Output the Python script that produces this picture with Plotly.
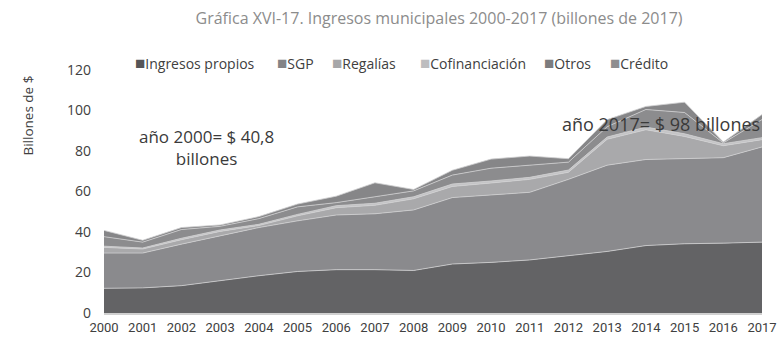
import plotly.graph_objects as go

# data (billones de pesos de 2017)
years = list(range(2000, 2018))
ingresos_propios = [12.2, 12.4, 13.5, 16.0, 18.4, 20.5, 21.4, 21.4, 21.0, 24.2,
                    25.0, 26.2, 28.3, 30.4, 33.3, 34.2, 34.5, 35.0]
sgp = [17.4, 17.2, 20.5, 22.1, 23.8, 25.0, 27.0, 27.6, 29.9, 32.8,
       33.3, 33.4, 37.7, 42.6, 42.5, 42.0, 42.2, 47.0]
regalias = [2.8, 2.0, 2.2, 2.2, 1.0, 2.5, 3.6, 4.2, 5.5, 5.5,
            5.9, 6.4, 3.5, 12.8, 14.7, 11.0, 5.9, 3.6]
cofinanciacion = [0.6, 0.5, 0.7, 0.7, 0.6, 0.7, 1.0, 1.0, 1.0, 1.2,
                  1.0, 1.0, 1.1, 1.1, 1.3, 1.3, 1.0, 1.0]
otros = [4.7, 2.9, 4.3, 1.8, 2.8, 3.7, 1.5, 3.2, 2.9, 4.4,
         6.3, 6.0, 3.9, 5.1, 8.7, 10.5, 0.4, 8.9]
credito = [3.1, 0.9, 1.0, 0.7, 1.0, 1.4, 3.2, 6.9, 0.7, 2.4,
           4.5, 4.5, 1.7, 3.5, 1.5, 5.1, 0.4, 2.5]

series = [
    ('Ingresos propios', ingresos_propios, '#636365', '#555557'),
    ('SGP', sgp, '#8a8a8d', '#838386'),
    ('Regalías', regalias, '#a9a9ab', '#a7a7a9'),
    ('Cofinanciación', cofinanciacion, '#c4c4c6', '#bdbdbf'),
    ('Otros', otros, '#8c8c8e', '#7c7c7e'),
    ('Crédito', credito, '#868688', '#8e8e90'),
]

# plot area, in screen pixels measured on the reference
L, R, T, B = 103.5, 762.5, 70, 313.5
W, H = R - L, B - T


def px(xs):
    return (xs - L) / W


def py(ys):
    return (B - ys) / H


fig = go.Figure()
for name, vals, fill, _ in series:
    fig.add_trace(go.Scatter(
        x=years, y=vals, name=name,
        stackgroup='one', mode='lines',
        line=dict(width=0.8, color='#cfcfd1'),
        fillcolor=fill,
        showlegend=False,
    ))

# legend drawn as text items: coloured square + label
legend_x = [133, 275, 330, 418, 542, 608]
for (name, _, _, sq), lx in zip(series, legend_x):
    fig.add_annotation(
        xref='paper', yref='paper', x=px(lx), y=py(62),
        xanchor='left', yanchor='middle', showarrow=False,
        text=f'<span style="color:{sq};font-size:17px">■</span>{name}',
        font=dict(family='Open Sans', size=14, color='#404040'),
    )

fig.add_annotation(
    x=2002.64, y=81.6, showarrow=False, xanchor='center', yanchor='middle',
    text='año 2000= $ 40,8<br>billones',
    font=dict(family='Open Sans', size=17, color='#3a3a3a'),
)
fig.add_annotation(
    x=2017, y=93.3, xanchor='right', yanchor='middle', showarrow=False,
    text='año 2017= $ 98 billones',
    font=dict(family='Open Sans', size=18, color='#3a3a3a'),
)
fig.add_annotation(
    xref='paper', yref='paper', x=px(27), y=py(116),
    xanchor='center', yanchor='middle',
    textangle=-90, showarrow=False,
    text='Billones de $',
    font=dict(family='Open Sans', size=13.5, color='#404040'),
)

fig.update_xaxes(
    range=[2000, 2017], tickmode='array', tickvals=years,
    showgrid=False, zeroline=False, automargin=False,
    showline=True, linecolor='#d0d0d0', linewidth=1.5,
    ticklabelstandoff=2,
    tickfont=dict(family='Roboto', size=13, color='#404040'),
)
fig.update_yaxes(
    range=[0, 120], dtick=20, showgrid=False, zeroline=False, automargin=False,
    ticklabelstandoff=12,
    tickfont=dict(family='Open Sans', size=14, color='#404040'),
)

fig.update_layout(
    width=778, height=338,
    margin=dict(l=L, r=778 - R, t=T, b=338 - B),
    plot_bgcolor='white', paper_bgcolor='white',
    title=dict(
        text='Gráfica XVI-17. Ingresos municipales 2000-2017 (billones de 2017)',
        x=439 / 778, xanchor='center',
        y=1 - 18 / 338, yanchor='middle',
        font=dict(family='Open Sans', size=16, color='#8c8c8c'),
    ),
)

# drop the default page margin so the 778x338 figure fills the window exactly
fig.write_html(
    'out.html',
    config={'displayModeBar': False},
    post_script="document.body.style.margin='0';document.body.style.overflow='hidden';",
)
